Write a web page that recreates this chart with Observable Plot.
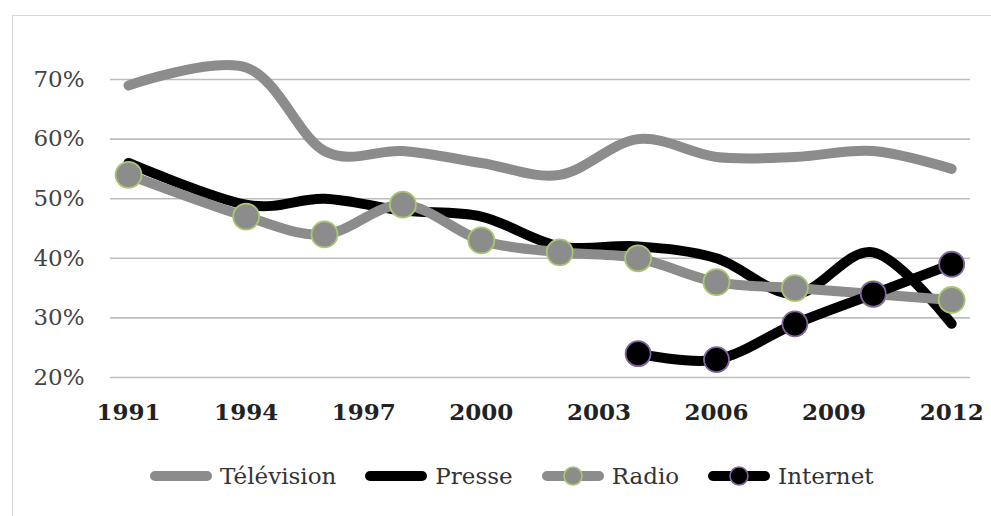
<!DOCTYPE html>
<html><head><meta charset="utf-8">
<script src="https://cdn.jsdelivr.net/npm/d3@7"></script>
<script src="https://cdn.jsdelivr.net/npm/@observablehq/plot@0.6"></script>
<style>
body{margin:0;background:#fff;}
#wrap{position:relative;width:991px;height:516px;overflow:hidden;background:#fff;}
#frame{position:absolute;left:12px;top:15px;width:1000px;height:600px;border:1.5px solid #d6d6d6;box-sizing:border-box}
#chart{position:absolute;left:0;top:0}
#legend{position:absolute;left:148px;top:463px;display:flex;align-items:center;gap:27px;font-family:"DejaVu Serif",serif;font-size:23px;color:#333}
#legend .item{display:flex;align-items:center;gap:6px}
</style>
</head><body>
<div id="wrap"><div id="frame"></div><div id="chart"></div><div id="legend"></div></div>
<script>
const years = [1991,1994,1996,1998,2000,2002,2004,2006,2008,2010,2012];
const television = [69,72,58,58,56,54,60,57,57,58,55];
const presse = [56,49,50,48,47,42,42,40,34,41,29];
const radio = [54,47,44,49,43,41,40,36,35,34,33];
const internetYears = [2004,2006,2008,2010,2012];
const internet = [24,23,29,34,39];
const xTicks = [1991,1994,1997,2000,2003,2006,2009,2012];
const yTicks = [20,30,40,50,60,70];
const seriesNames = ["Télévision","Presse","Radio","Internet"];

const gray = "#8c8c8c";
const tv = years.map((y,i)=>({year:y, value:television[i]}));
const pr = years.map((y,i)=>({year:y, value:presse[i]}));
const ra = years.map((y,i)=>({year:y, value:radio[i]}));
const it = internetYears.map((y,i)=>({year:y, value:internet[i]}));

const lineOpts = {x:"year", y:"value", strokeWidth:10, curve:"cardinal", tension:0, strokeLinecap:"round", strokeLinejoin:"round"};

const chart = Plot.plot({
  width: 991, height: 430,
  marginLeft: 110, marginRight: 21, marginTop: 79, marginBottom: 53,
  style: {background:"transparent"},
  x: {domain:[1990.54, 2012.48], label:null},
  y: {domain:[20,70], label:null},
  marks: [
    Plot.gridY(yTicks, {stroke:"#bdbdbd", strokeOpacity:1, strokeWidth:1.6}),
    Plot.axisY({ticks:yTicks, tickFormat:d=>d+"%", tickSize:0, tickPadding:26, fontSize:23, fontFamily:"DejaVu Serif", fill:"#444", label:null}),
    Plot.axisX({ticks:xTicks, tickFormat:d=>String(d), tickSize:0, tickPadding:26, fontSize:23, fontWeight:"bold", fontFamily:"DejaVu Serif", fill:"#222", label:null}),
    Plot.line(tv, {...lineOpts, stroke:gray}),
    Plot.line(pr, {...lineOpts, stroke:"#000"}),
    Plot.line(ra, {...lineOpts, stroke:gray}),
    Plot.dot(ra, {x:"year", y:"value", r:13, fill:gray, stroke:"#a9c86e", strokeWidth:1.8}),
    Plot.line(it, {...lineOpts, stroke:"#000"}),
    Plot.dot(it, {x:"year", y:"value", r:12.5, fill:"#000", stroke:"#8064a2", strokeWidth:1.8})
  ]
});
document.getElementById("chart").appendChild(chart);

// legend
const legendStyles = [
  {stroke:gray, dot:null},
  {stroke:"#000", dot:null},
  {stroke:gray, dot:{fill:gray, stroke:"#a9c86e"}},
  {stroke:"#000", dot:{fill:"#000", stroke:"#8064a2"}}
];
const leg = d3.select("#legend");
seriesNames.forEach((name,i)=>{
  const s = legendStyles[i];
  const item = leg.append("div").attr("class","item");
  const svg = item.append("svg").attr("width",66).attr("height",24);
  svg.append("line").attr("x1",7).attr("x2",59).attr("y1",12).attr("y2",12)
    .attr("stroke",s.stroke).attr("stroke-width",10).attr("stroke-linecap","round");
  if (s.dot) svg.append("circle").attr("cx",33).attr("cy",12).attr("r",9)
    .attr("fill",s.dot.fill).attr("stroke",s.dot.stroke).attr("stroke-width",1.6);
  item.append("span").text(name);
});
</script>
</body></html>
